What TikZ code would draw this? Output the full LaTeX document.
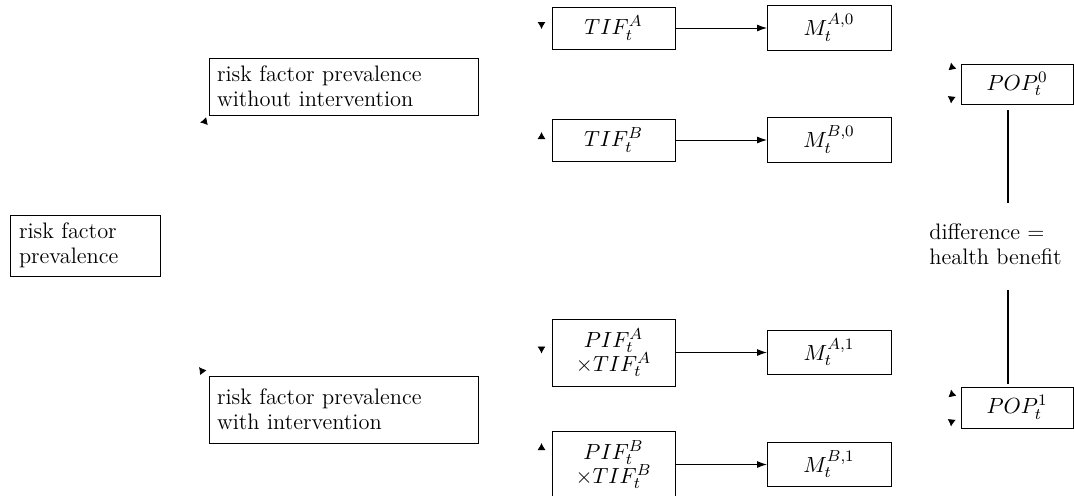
\documentclass[tikz,border=0pt]{standalone}
\usetikzlibrary{arrows.meta,calc}
\begin{document}
\begin{tikzpicture}[x=0.5pt,y=-0.5pt,
  every node/.style={font=\fontsize{11.2}{12.6}\selectfont},
  box/.style={draw,line width=0.5pt,inner sep=0pt,outer sep=0pt,anchor=center},
  txtbox/.style={box,align=left,text width=#1},
  flow/.style={-{Latex[length=5pt,width=3.5pt]},line width=0.5pt},
  tiponly/.style={-{Latex[length=3.5pt,width=4pt]},line width=0.4pt},
  link/.style={line width=0.9pt}]
\useasboundingbox (0,0) rectangle (1074,495);

% left column: risk factor boxes
\node[txtbox=66pt,minimum width=75pt,minimum height=30.5pt] (rf) at (85,245.5) {risk factor\\prevalence};
\node[txtbox=126.5pt,minimum width=134.5pt,minimum height=28.5pt] (rfw) at (343.5,86.5) {risk factor prevalence\\without intervention};
\node[txtbox=126.5pt,minimum width=134.5pt,minimum height=33.5pt] (rfi) at (343.5,409.5) {risk factor prevalence\\with intervention};

% impact fractions
\node[box,minimum width=61.5pt,minimum height=21pt] (tifA) at (613.5,28) {$TIF_t^A$};
\node[box,minimum width=61.5pt,minimum height=21pt] (tifB) at (613.5,140) {$TIF_t^B$};
\node[box,minimum width=61.5pt,minimum height=33.5pt,align=center] (pifA) at (613.5,352.5) {$PIF_t^A$\\[-0.8pt]$\times TIF_t^A$};
\node[box,minimum width=61.5pt,minimum height=33.5pt,align=center] (pifB) at (613.5,464.5) {$PIF_t^B$\\[-0.8pt]$\times TIF_t^B$};

% mortality boxes
\node[box,minimum width=62pt,minimum height=22.5pt] (mA0) at (829,27.5) {$M_t^{A,0}$};
\node[box,minimum width=62pt,minimum height=22.5pt] (mB0) at (829,139.5) {$M_t^{B,0}$};
\node[box,minimum width=62pt,minimum height=22pt] (mA1) at (829,352) {$M_t^{A,1}$};
\node[box,minimum width=62pt,minimum height=22pt] (mB1) at (829,464) {$M_t^{B,1}$};

% population boxes
\node[box,minimum width=56pt,minimum height=20pt] (pop0) at (1017,84) {$POP_t^0$};
\node[box,minimum width=56pt,minimum height=20.5pt] (pop1) at (1017,407.5) {$POP_t^1$};

\node[align=left,inner sep=0pt,anchor=west] (diff) at (929,244) {difference =\\health benefit};

% flows
\draw[flow] (tifA.east) -- (tifA.east -| mA0.west);
\draw[flow] (tifB.east) -- (tifB.east -| mB0.west);
\draw[flow] (pifA.east) -- (pifA.east -| mA1.west);
\draw[flow] (pifB.east) -- (pifB.east -| mB1.west);

% links between the population boxes and the label
\coordinate (l0a) at (1008,110);
\coordinate (l0b) at (1008,203);
\coordinate (l1a) at (1008,290);
\coordinate (l1b) at (1008,384);
\draw[link] (l0a) -- (l0b);
\draw[link] (l1a) -- (l1b);

% small arrow tips beside the boxes
\coordinate (t1) at (200,122.5);
\coordinate (t2) at (199,367);
\coordinate (t3) at (541.5,29);
\coordinate (t4) at (541.5,132);
\coordinate (t5) at (951,62.5);
\coordinate (t6) at (951,103.5);
\coordinate (t7) at (951,389.5);
\coordinate (t8) at (951,426.5);
\coordinate (t9) at (541.5,353.5);
\coordinate (t10) at (541.5,443);
\draw[tiponly] ($(t1)+(2,-0.4)$) -- (t1);
\draw[tiponly] ($(t2)+(1.2,1.6)$) -- (t2);
\draw[tiponly] ($(t3)+(0,-2)$) -- (t3);
\draw[tiponly] ($(t4)+(0,2)$) -- (t4);
\draw[tiponly] ($(t5)+(0.4,2)$) -- (t5);
\draw[tiponly] ($(t6)+(0.2,-2)$) -- (t6);
\draw[tiponly] ($(t7)+(0.4,2)$) -- (t7);
\draw[tiponly] ($(t8)+(0.2,-2)$) -- (t8);
\draw[tiponly] ($(t9)+(0,-2)$) -- (t9);
\draw[tiponly] ($(t10)+(0,2)$) -- (t10);
\end{tikzpicture}
\end{document}
